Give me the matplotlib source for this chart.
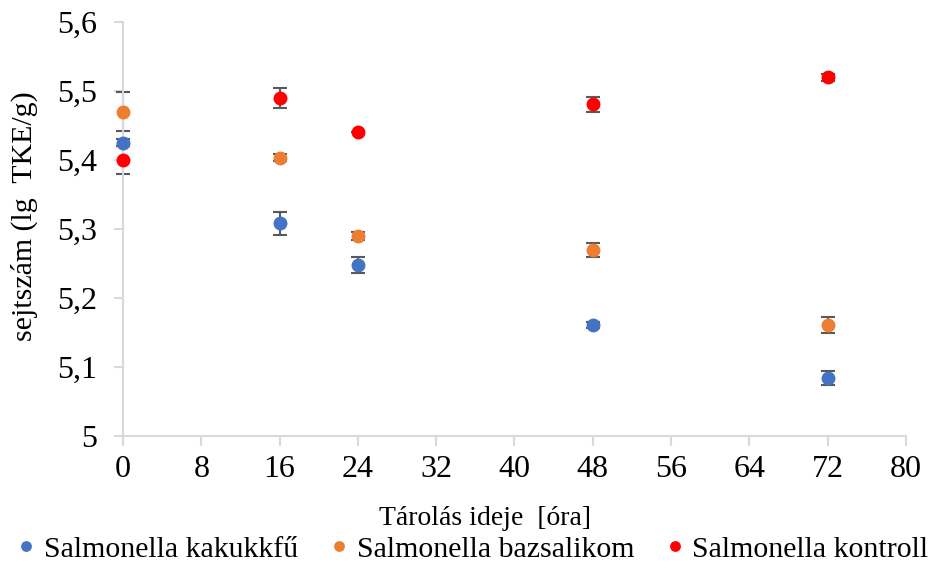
import matplotlib.pyplot as plt
import matplotlib.ticker as mticker

plt.rcParams['font.family'] = ['Liberation Serif', 'DejaVu Serif']

hours = [0, 16, 24, 48, 72]

kakukk = [5.425, 5.308, 5.248, 5.161, 5.084]
kakukk_err = [0.005, 0.016, 0.012, 0.004, 0.01]

bazsalikom = [5.47, 5.403, 5.29, 5.27, 5.161]
bazsalikom_err = [0.028, 0.005, 0.006, 0.01, 0.011]

kontroll = [5.40, 5.49, 5.44, 5.481, 5.52]
kontroll_err = [0.02, 0.015, 0.0, 0.011, 0.005]

series = [
    ('Salmonella kakukkfű', kakukk, kakukk_err, '#4472C4'),
    ('Salmonella bazsalikom', bazsalikom, bazsalikom_err, '#ED7D31'),
    ('Salmonella kontroll', kontroll, kontroll_err, '#FF0000'),
]

fig = plt.figure(figsize=(9.37, 5.64), dpi=100)
ax = fig.add_axes([123 / 937, 1 - 436 / 564, 783 / 937, 414 / 564])

for name, vals, err, col in series:
    ax.errorbar(hours, vals, yerr=err, fmt='none', ecolor='#595959',
                elinewidth=1.5, capsize=5, capthick=1.5, zorder=2, clip_on=False)
    ax.plot(hours, vals, 'o', color=col, ms=9, label=name, zorder=3, clip_on=False)

ax.set_xlim(0, 80)
ax.set_ylim(5, 5.6)
ax.set_xticks(range(0, 81, 8))
ax.set_yticks([5 + i * 0.1 for i in range(7)])
ax.yaxis.set_major_formatter(mticker.FuncFormatter(
    lambda v, p: '5' if abs(v - 5) < 1e-9 else f'{v:.1f}'.replace('.', ',')))

for s in ['top', 'right']:
    ax.spines[s].set_visible(False)
for s in ['left', 'bottom']:
    ax.spines[s].set_color('#D9D9D9')
    ax.spines[s].set_linewidth(1.5)
ax.tick_params(axis='y', direction='out', length=6.5, width=1.5, color='#D9D9D9',
               labelsize=23, pad=12)
ax.tick_params(axis='x', direction='out', length=7, width=1.5, color='#D9D9D9',
               labelsize=23, pad=7)

ax.set_xlabel('Tárolás ideje  [óra]', fontsize=20)
ax.xaxis.set_label_coords(0.462, -0.168)
ax.set_ylabel('sejtszám (lg  TKE/g)', fontsize=21.5)
ax.yaxis.set_label_coords(-0.108, 0.53)

fig.legend(loc='lower center', ncol=3, frameon=False, fontsize=21.5,
           bbox_to_anchor=(0.5, -0.045), handletextpad=0.0, columnspacing=0.75,
           markerscale=0.75, handlelength=1.2)

fig.savefig('out.png', dpi=100)
